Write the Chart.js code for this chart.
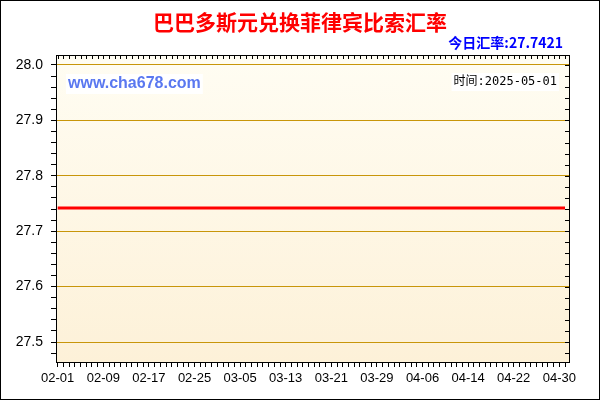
<!DOCTYPE html>
<html><head><meta charset="utf-8">
<script src="https://cdn.jsdelivr.net/npm/chart.js@4/dist/chart.umd.min.js"></script>
<style>html,body{margin:0;padding:0;background:#fff}#wrap{width:600px;height:400px}</style>
</head><body><div id="wrap"><canvas id="c" width="600" height="400"></canvas></div>
<script>
const titleText = '巴巴多斯元兑换菲律宾比索汇率';
const todayLabel = '今日汇率:27.7421';
const siteLabel = 'www.cha678.com';
const timeLabel = '时间:2025-05-01';
// daily dates 02-01 .. 05-01
const dates = (function(){const a=[];const m=[[2,28],[3,31],[4,30],[5,1]];for(const [mm,n] of m){for(let d=1;d<=n;d++){a.push(String(mm).padStart(2,'0')+'-'+String(d).padStart(2,'0'));}}return a;})();
const rates = dates.map(() => 27.7421);
const yTickLabels = [27.5, 27.6, 27.7, 27.8, 27.9, 28.0];

const pts = rates.map((v,i)=>({x:i,y:v}));

const deco = {
  id:'deco',
  beforeDraw(chart){
    const {ctx, chartArea:a} = chart;
    ctx.save();
    ctx.fillStyle='#fff';ctx.fillRect(0,0,600,400);
    const g = ctx.createLinearGradient(0,a.top,0,a.bottom);
    g.addColorStop(0,'#fffdf3');g.addColorStop(1,'#fdf1d8');
    ctx.fillStyle=g;ctx.fillRect(a.left,a.top,a.right-a.left,a.bottom-a.top);
    ctx.restore();
  },
  afterDraw(chart){
    const {ctx, chartArea:a, scales} = chart;
    ctx.save();
    ctx.strokeStyle='#000';ctx.lineWidth=1;
    ctx.strokeRect(Math.round(a.left)+0.5,Math.round(a.top)+0.5,Math.round(a.right-a.left),Math.round(a.bottom-a.top));
    ctx.strokeRect(0.5,0.5,599,399);
    ctx.beginPath();
    for(const t of scales.x.ticks){const px=Math.round(scales.x.getPixelForValue(t.value))+0.5;ctx.moveTo(px,a.top);ctx.lineTo(px,a.top+4);}
    for(const t of scales.y.ticks){const py=Math.round(scales.y.getPixelForValue(t.value))+0.5;ctx.moveTo(a.right,py);ctx.lineTo(a.right-4,py);}
    ctx.stroke();
    ctx.textBaseline='middle';
    ctx.font='bold 21px "Noto Sans CJK SC"';ctx.fillStyle='#ff0000';ctx.textAlign='center';
    ctx.fillText(titleText,300,22);
    ctx.font='bold 14px "Noto Sans CJK SC"';ctx.fillStyle='#0000ff';ctx.textAlign='right';
    ctx.fillText(todayLabel,563,43);
    ctx.font='bold 16px "Liberation Sans"';
    let w=ctx.measureText(siteLabel).width;
    ctx.fillStyle='#ffffff';ctx.fillRect(66,74,w+4,20);
    ctx.fillStyle='#5a78f0';ctx.textAlign='left';ctx.fillText(siteLabel,68,84);
    ctx.font='12px "DejaVu Sans Mono", "Noto Sans CJK SC"';
    w=ctx.measureText(timeLabel).width;
    ctx.fillStyle='#ffffff';ctx.fillRect(557-w-2,73,w+4,18);
    ctx.fillStyle='#000';ctx.textAlign='right';ctx.fillText(timeLabel,557,82);
    ctx.restore();
  }
};

new Chart(document.getElementById('c'),{
  type:'line',
  data:{datasets:[{data:pts,borderColor:'#ff0000',borderWidth:3,pointRadius:0,tension:0,fill:false}]},
  options:{
    responsive:false,animation:false,
    layout:{padding:{top:55,right:31,left:0,bottom:0}},
    plugins:{legend:{display:false},tooltip:{enabled:false}},
    scales:{
      x:{type:'linear',min:-0.3,max:89.7,
        afterBuildTicks(s){s.ticks=dates.map((d,i)=>({value:i}));},
        ticks:{autoSkip:false,maxRotation:0,padding:4,color:'#000',font:{family:'Liberation Sans',size:13},
          callback:(v)=> (v%8===0 && dates[v]) ? dates[v] : ''},
        grid:{drawOnChartArea:false,tickLength:5,tickColor:'#000'},
        border:{color:'#000'},
        afterFit(s){s.height=38;}
      },
      y:{min:27.464,max:28.018,
        afterBuildTicks(s){const t=[];for(let k=1374;k<=1400;k++){t.push({value:k/50});}s.ticks=t;},
        ticks:{autoSkip:false,padding:8,color:'#000',font:{family:'Liberation Sans',size:14},
          callback:(v)=>{const m=yTickLabels.find(y=>Math.abs(y-v)<1e-6);return m!==undefined?m.toFixed(1):'';}},
        grid:{tickLength:5,tickColor:'#000',
          color:(c)=>{const v=c.tick&&c.tick.value;return (v!==undefined&&yTickLabels.some(y=>Math.abs(y-v)<1e-6))?'#c8960a':'rgba(0,0,0,0)';}},
        border:{color:'#000'},
        afterFit(s){s.width=56;}
      }
    }
  },
  plugins:[deco]
});
</script></body></html>
